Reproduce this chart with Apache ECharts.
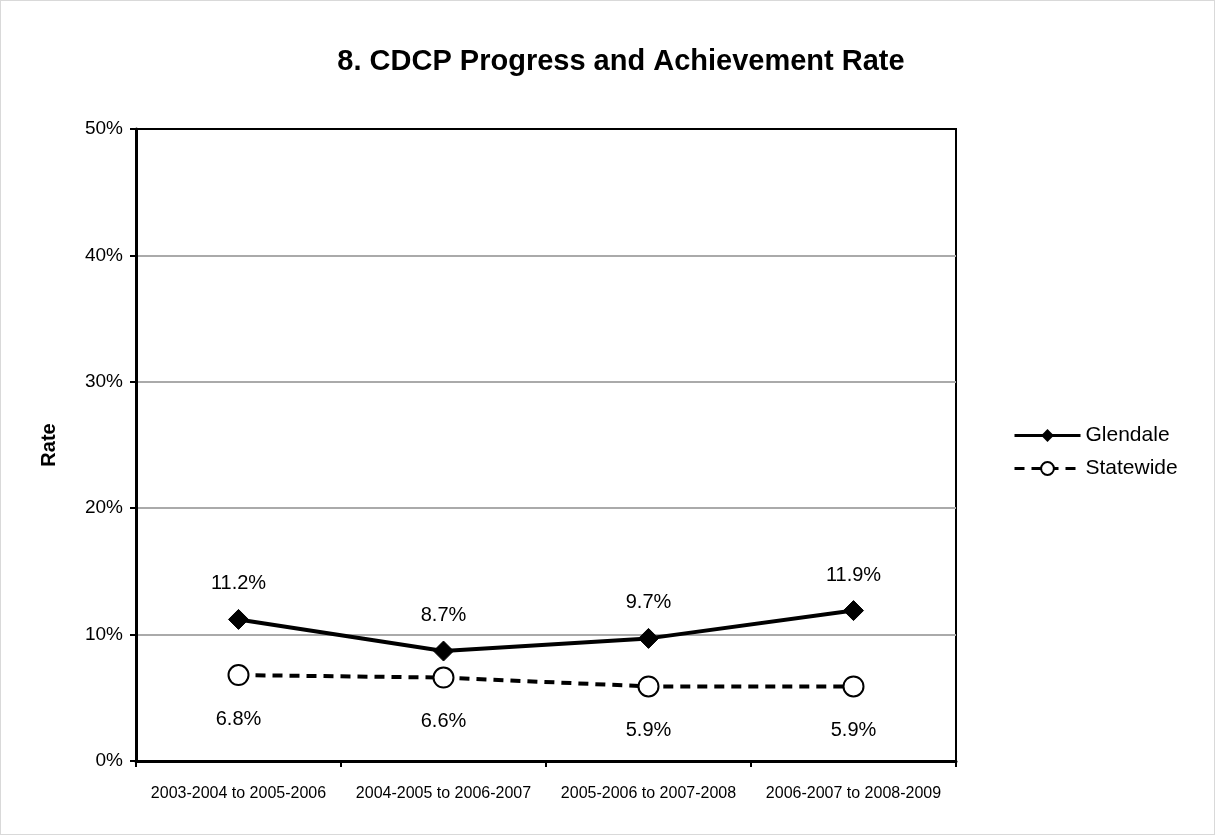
<!DOCTYPE html>
<html><head><meta charset="utf-8">
<script src="https://cdn.jsdelivr.net/npm/echarts@6/dist/echarts.min.js"></script>
<style>
html,body{margin:0;padding:0;background:#fff;}
#c{position:absolute;left:0;top:0;width:1213px;height:833px;border:1px solid #d9d9d9;}
</style></head><body>
<div id="c"></div>
<script>
const categories = ["2003-2004 to 2005-2006","2004-2005 to 2006-2007","2005-2006 to 2007-2008","2006-2007 to 2008-2009"];
const glendale = [11.2, 8.7, 9.7, 11.9];
const statewide = [6.8, 6.6, 5.9, 5.9];
const yTicks = [0, 10, 20, 30, 40, 50];

const chart = echarts.init(document.getElementById('c'));
const FONT = 'Liberation Sans, Arial, sans-serif';
chart.setOption({
  animation: false,
  textStyle: {fontFamily: FONT},
  title: {text: '8. CDCP Progress and Achievement Rate', left: 615, top: 41, textAlign: 'center',
    textStyle: {fontSize: 29, fontWeight: 'bold', color: '#000', fontFamily: FONT}},
  legend: {
    orient: 'vertical', left: 1007, top: 419, itemWidth: 66, itemHeight: 16, itemGap: 12,
    lineStyle: {width: 3},
    textStyle: {fontSize: 21, color: '#000', fontFamily: FONT},
    data: ['Glendale', 'Statewide']
  },
  grid: {left: 135, right: 258, top: 128, bottom: 73, show: true, borderColor: '#000', borderWidth: 2},
  xAxis: {
    type: 'category', data: categories, boundaryGap: true,
    axisLine: {lineStyle: {color: '#000', width: 3}},
    axisTick: {show: true, interval: 0, length: 6, lineStyle: {color: '#000', width: 2}},
    axisLabel: {interval: 0, fontSize: 16, color: '#000', margin: 25, fontFamily: FONT}
  },
  yAxis: {
    type: 'value', min: yTicks[0], max: yTicks[yTicks.length-1], interval: 10,
    name: 'Rate', nameLocation: 'middle', nameGap: 77, nameRotate: 90,
    nameTextStyle: {fontSize: 20, fontWeight: 'bold', color: '#000', fontFamily: FONT},
    axisLine: {show: true, lineStyle: {color: '#000', width: 3}},
    axisTick: {show: true, length: 6, lineStyle: {color: '#000', width: 2}},
    axisLabel: {fontSize: 19, color: '#000', margin: 13, formatter: v => v + '%', fontFamily: FONT},
    splitLine: {showMaxLine: false, lineStyle: {color: '#aaaaaa', width: 2}}
  },
  series: [
    {name: 'Glendale', type: 'line', data: glendale, symbol: 'diamond', symbolSize: 20,
      lineStyle: {color: '#000', width: 4}, itemStyle: {color: '#000', borderColor: '#000'},
      label: {show: true, position: 'top', distance: 15, fontSize: 20, color: '#000', formatter: p => p.value.toFixed(1) + '%', fontFamily: FONT}},
    {name: 'Statewide', type: 'line', data: statewide, symbol: 'circle', symbolSize: 20,
      lineStyle: {color: '#000', width: 4, type: [10, 7]}, itemStyle: {color: '#fff', borderColor: '#000', borderWidth: 2},
      label: {show: true, position: 'bottom', distance: 23, fontSize: 20, color: '#000', formatter: p => p.value.toFixed(1) + '%', fontFamily: FONT}}
  ]
});
</script></body></html>
